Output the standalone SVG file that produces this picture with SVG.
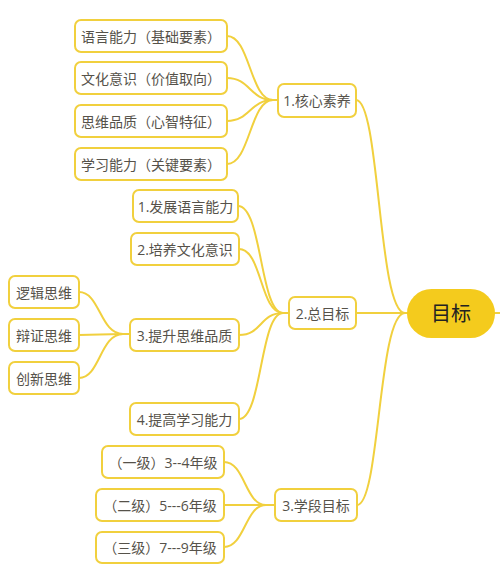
<svg xmlns="http://www.w3.org/2000/svg" width="500" height="575" viewBox="0 0 500 575">
<style>
.box{fill:#ffffff;stroke:#F1D03E;stroke-width:2}
.t{font-family:"Open Sans","Noto Sans CJK SC",sans-serif;font-size:14px;fill:#56524a;text-anchor:middle;dominant-baseline:central}
.root{fill:#F4CB1D;stroke:none}
.rt{font-family:"Open Sans","Noto Sans CJK SC",sans-serif;font-size:20px;fill:#222222;text-anchor:middle;dominant-baseline:central}
.c{fill:none;stroke:#F1D03E;stroke-width:2}
</style>
<rect width="500" height="575" fill="#ffffff"/>
<g id="connectors">
<path class="c" d="M227,36 C250,36 250,100 273,100 H278"/>
<path class="c" d="M227,78 C250,78 250,100 273,100 H278"/>
<path class="c" d="M227,121 C250,121 250,100 273,100 H278"/>
<path class="c" d="M227,164 C250,164 250,100 273,100 H278"/>
<path class="c" d="M238,206 C262,206 260,313 283,313 H289"/>
<path class="c" d="M239,249 C262,249 260,313 283,313 H289"/>
<path class="c" d="M239,335 C262,335 260,313 283,313 H289"/>
<path class="c" d="M239,419 C262,419 260,313 283,313 H289"/>
<path class="c" d="M79,292 C100,292 100,334 123,334 H130"/>
<path class="c" d="M79,335 C100,335 100,334 123,334 H130"/>
<path class="c" d="M79,378 C100,378 100,334 123,334 H130"/>
<path class="c" d="M224,462 C245,462 245,505 266,505 H275"/>
<path class="c" d="M224,505 H275"/>
<path class="c" d="M224,547 C245,547 245,505 266,505 H275"/>
<path class="c" d="M356,100 C380,100 378,313 405,313 H408"/>
<path class="c" d="M356,313 H408"/>
<path class="c" d="M357,505 C380,505 378,313 405,313 H408"/>
<path class="c" d="M494,313 H500"/>
</g>
<g id="root">
<rect class="root" x="407" y="289" width="88" height="49" rx="24.5"/>
<text class="rt" x="451" y="313.5">目标</text>
</g>
<g id="n1">
<rect class="box" x="278" y="84" width="78" height="33" rx="6"/>
<text class="t" x="317" y="100.5">1.核心素养</text>
</g>
<g id="n1a">
<rect class="box" x="75" y="20" width="152" height="32" rx="6"/>
<text class="t" x="151" y="36">语言能力（基础要素）</text>
</g>
<g id="n1b">
<rect class="box" x="75" y="62" width="152" height="32" rx="6"/>
<text class="t" x="151" y="78">文化意识（价值取向）</text>
</g>
<g id="n1c">
<rect class="box" x="75" y="105" width="152" height="32" rx="6"/>
<text class="t" x="151" y="121">思维品质（心智特征）</text>
</g>
<g id="n1d">
<rect class="box" x="75" y="148" width="152" height="32" rx="6"/>
<text class="t" x="151" y="164">学习能力（关键要素）</text>
</g>
<g id="n2">
<rect class="box" x="289" y="297" width="67" height="32" rx="6"/>
<text class="t" x="322.5" y="313">2.总目标</text>
</g>
<g id="n2a">
<rect class="box" x="133" y="190" width="105" height="32" rx="6"/>
<text class="t" x="185.5" y="206">1.发展语言能力</text>
</g>
<g id="n2b">
<rect class="box" x="131" y="233" width="108" height="32" rx="6"/>
<text class="t" x="185" y="249">2.培养文化意识</text>
</g>
<g id="n2c">
<rect class="box" x="130" y="319" width="109" height="32" rx="6"/>
<text class="t" x="184.5" y="335">3.提升思维品质</text>
</g>
<g id="n2d">
<rect class="box" x="130" y="403" width="109" height="32" rx="6"/>
<text class="t" x="184.5" y="419">4.提高学习能力</text>
</g>
<g id="n2c1">
<rect class="box" x="9" y="276" width="70" height="32" rx="6"/>
<text class="t" x="44" y="292">逻辑思维</text>
</g>
<g id="n2c2">
<rect class="box" x="9" y="319" width="70" height="32" rx="6"/>
<text class="t" x="44" y="335">辩证思维</text>
</g>
<g id="n2c3">
<rect class="box" x="9" y="362" width="70" height="32" rx="6"/>
<text class="t" x="44" y="378">创新思维</text>
</g>
<g id="n3">
<rect class="box" x="275" y="489" width="82" height="32" rx="6"/>
<text class="t" x="316" y="505">3.学段目标</text>
</g>
<g id="n3a">
<rect class="box" x="102" y="446" width="122" height="32" rx="6"/>
<text class="t" x="163" y="462">（一级）3--4年级</text>
</g>
<g id="n3b">
<rect class="box" x="96" y="489" width="128" height="32" rx="6"/>
<text class="t" x="160" y="505">（二级）5---6年级</text>
</g>
<g id="n3c">
<rect class="box" x="96" y="532" width="128" height="31" rx="6"/>
<text class="t" x="160" y="547.5">（三级）7---9年级</text>
</g>
</svg>
